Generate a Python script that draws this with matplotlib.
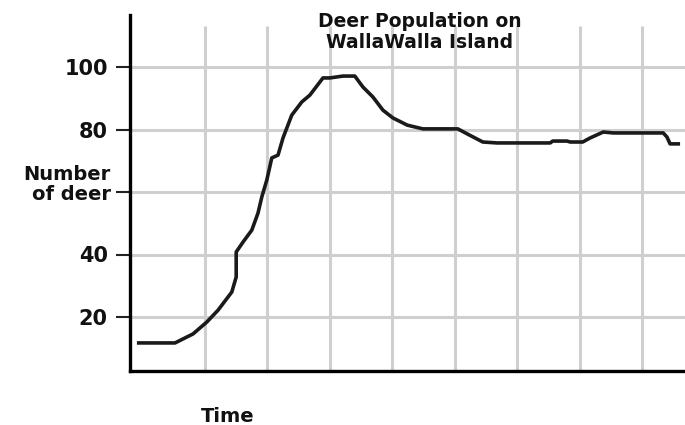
import matplotlib
matplotlib.use("Agg")
import matplotlib.pyplot as plt

# Data (time in grid units, deer count)
time = [-0.09, 0.52, 0.81, 1.03, 1.21, 1.43, 1.50, 1.50, 1.61, 1.75, 1.85, 1.91,
        1.99, 2.07, 2.17, 2.25, 2.39, 2.55, 2.68, 2.89, 3.00, 3.21, 3.40, 3.53,
        3.69, 3.85, 4.01, 4.24, 4.49, 5.05, 5.20, 5.45, 5.68, 6.53, 6.57, 6.80,
        6.85, 7.05, 7.17, 7.38, 7.54, 8.34, 8.40, 8.45, 8.61]
deer = [11.7, 11.7, 14.6, 18.4, 22.2, 28.0, 32.8, 40.8, 44.0, 47.8, 53.3, 58.4,
        63.8, 70.9, 71.8, 77.3, 84.6, 88.8, 91.0, 96.5, 96.5, 97.1, 97.1, 93.6,
        90.4, 86.2, 83.7, 81.4, 80.2, 80.2, 78.6, 76.0, 75.7, 75.7, 76.3, 76.3,
        76.0, 76.0, 77.3, 79.2, 78.9, 78.9, 77.6, 75.4, 75.4]

y_ticks = [20, 40, 60, 80, 100]
y_labels = ["20", "40", "", "80", "100"]
x_grid = [1, 2, 3, 4, 5, 6, 7, 8]

title = "Deer Population on\nWallaWalla Island"
y_label = "Number\nof deer"
x_label = "Time"

fig = plt.figure(figsize=(6.85, 4.25), dpi=100)
ax = fig.add_axes([130/685, 54/425, 555/685, 356/425])
ax.set_xlim(-0.201, 8.689)
ax.set_ylim(2.72, 116.64)

grid_color = "#cfcfcf"
for yv in y_ticks:
    ax.axhline(yv, color=grid_color, lw=2.2, zorder=1)
ax.vlines(x_grid, 2.72, 113.1, color=grid_color, lw=2.2, zorder=1)

ax.plot(time, deer, color="#1a1a1a", lw=2.6, solid_capstyle="butt",
        solid_joinstyle="round", zorder=3)

for s in ["top", "right"]:
    ax.spines[s].set_visible(False)
for s in ["left", "bottom"]:
    ax.spines[s].set_linewidth(2.4)
    ax.spines[s].set_color("black")
    ax.spines[s].set_zorder(4)

ax.set_xticks([])
ax.set_yticks(y_ticks)
ax.set_yticklabels(y_labels, fontsize=15, fontweight="bold", color="#111111")
ax.tick_params(axis="y", direction="out", length=10, width=1.5, pad=6,
               color="#222222")

ax.text(-0.035, 62.5, y_label, transform=ax.get_yaxis_transform(),
        ha="right", va="center", fontsize=14, fontweight="bold",
        color="#111111", linespacing=1.05)

fig.text(420/685, 1 - 32/425, title, ha="center", va="center",
         fontsize=13.5, fontweight="bold", color="#111111", linespacing=1.15)
fig.text(228/685, 1 - 416/425, x_label, ha="center", va="center",
         fontsize=14, fontweight="bold", color="#111111")

fig.savefig("out.png", dpi=100)
